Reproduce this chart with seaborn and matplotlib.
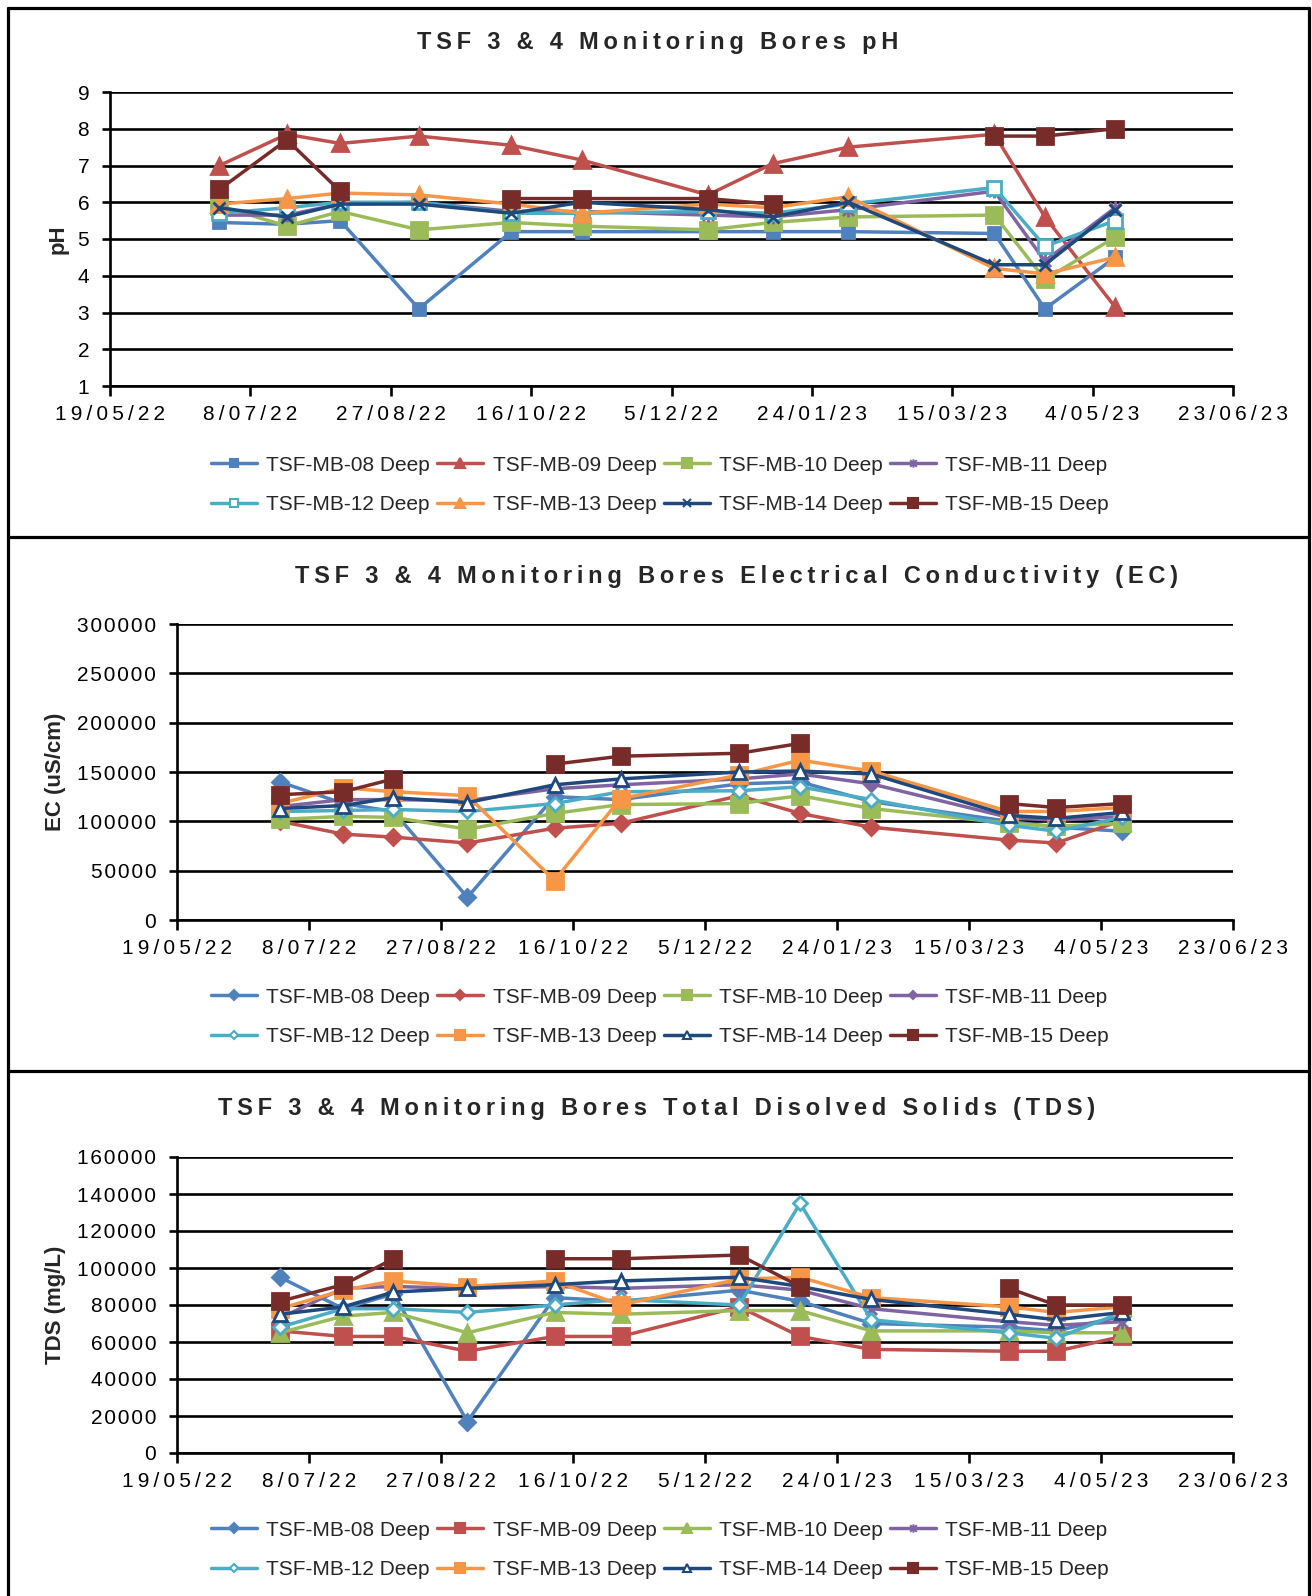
import matplotlib
matplotlib.use("Agg")
import matplotlib.pyplot as plt
from matplotlib.lines import Line2D
from matplotlib.path import Path
import numpy as np
import pandas as pd
import seaborn as sns

nan = np.nan

# ---- data ----
sample_dates = ["2022-06-27", "2022-07-21", "2022-08-09", "2022-09-06", "2022-10-09", "2022-11-03",
                "2022-12-18", "2023-01-10", "2023-02-06", "2023-03-30", "2023-04-17", "2023-05-12"]
bores = ["TSF-MB-08 Deep", "TSF-MB-09 Deep", "TSF-MB-10 Deep", "TSF-MB-11 Deep",
         "TSF-MB-12 Deep", "TSF-MB-13 Deep", "TSF-MB-14 Deep", "TSF-MB-15 Deep"]
tick_dates = ["2022-05-19", "2022-07-08", "2022-08-27", "2022-10-16", "2022-12-05",
              "2023-01-24", "2023-03-15", "2023-05-04", "2023-06-23"]
tick_labels = ["19/05/22", "8/07/22", "27/08/22", "16/10/22", "5/12/22",
               "24/01/23", "15/03/23", "4/05/23", "23/06/23"]

ph_08 = [5.45, 5.4, 5.5, 3.1, 5.2, 5.2, 5.2, 5.2, 5.2, 5.15, 3.1, 4.5]
ph_09 = [7.0, 7.85, 7.6, 7.8, 7.55, 7.15, 6.2, 7.05, 7.5, 7.85, 5.6, 3.15]
ph_10 = [5.9, 5.35, 5.75, 5.25, 5.45, 5.35, 5.25, 5.45, 5.6, 5.65, 3.9, 5.05]
ph_11 = [5.65, 5.65, 5.95, 6.0, 5.75, 5.75, 5.65, 5.6, 5.8, 6.3, 4.4, 5.85]
ph_12 = [5.7, 5.85, 6.0, 6.0, 5.7, 5.7, 5.75, 5.7, 5.95, 6.4, 4.8, 5.5]
ph_13 = [5.95, 6.1, 6.25, 6.2, 5.95, 5.7, 5.95, 5.85, 6.15, 4.2, 4.05, 4.5]
ph_14 = [5.85, 5.6, 5.95, 5.95, 5.7, 6.0, 5.8, 5.6, 6.0, 4.3, 4.3, 5.8]
ph_15 = [6.35, 7.7, 6.3, nan, 6.1, 6.1, 6.1, 5.95, nan, 7.8, 7.8, 8.0]

ec_08 = [140000, 118000, 110000, 23000, 125000, 122000, 138000, 140000, 120000, 100000, 94000, 90000]
ec_09 = [100000, 87000, 84000, 78000, 93000, 98000, 126000, 108000, 94000, 81000, 78000, 101000]
ec_10 = [102000, 105000, 104000, 92000, 108000, 117000, 118000, 126000, 113000, 98000, 95000, 98000]
ec_11 = [115000, 122000, 122000, 121000, 133000, 137000, 143000, 148000, 138000, 104000, 101000, 105000]
ec_12 = [110000, 111000, 112000, 110000, 118000, 130000, 131000, 135000, 122000, 96000, 90000, 104000]
ec_13 = [118000, 134000, 130000, 126000, 40000, 123000, 147000, 162000, 151000, 110000, 110000, 114000]
ec_14 = [113000, 116000, 124000, 119000, 137000, 143000, 150000, 151000, 148000, 106000, 103000, 109000]
ec_15 = [127000, 130000, 143000, nan, 158000, 166000, 169000, 179000, nan, 118000, 114000, 118000]

tds_08 = [95000, 78000, 86000, 17000, 84000, 82000, 88000, 82000, 70000, 68000, 66000, 74000]
tds_09 = [66000, 63000, 63000, 55000, 63000, 63000, 79000, 63000, 56000, 55000, 55000, 63000]
tds_10 = [65000, 74000, 76000, 65000, 76000, 75000, 77000, 77000, 66000, 66000, 65000, 65000]
tds_11 = [73000, 89000, 90000, 89000, 90000, 89000, 91000, 88000, 78000, 71000, 69000, 71000]
tds_12 = [68000, 78000, 78000, 76000, 80000, 83000, 80000, 135000, 72000, 65000, 62000, 76000]
tds_13 = [78000, 88000, 93000, 90000, 93000, 80000, 94000, 95000, 84000, 79000, 76000, 79000]
tds_14 = [75000, 79000, 87000, 89000, 91000, 93000, 95000, 90000, 83000, 75000, 72000, 76000]
tds_15 = [82000, 91000, 105000, nan, 105000, 105000, 107000, 90000, nan, 89000, 80000, 80000]

# ---- styling ----
sns.set_style("white")
plt.rcParams["font.family"] = ["Liberation Sans", "DejaVu Sans"]

colours = ["#4F81BD", "#C0504D", "#9BBB59", "#8064A2", "#4BACC6", "#F79646", "#1F497D", "#772C2A"]

# excel "star" marker: x with a vertical bar
star = Path([(0, -1), (0, 1), (-0.8, -0.8), (0.8, 0.8), (-0.8, 0.8), (0.8, -0.8)],
            [Path.MOVETO, Path.LINETO, Path.MOVETO, Path.LINETO, Path.MOVETO, Path.LINETO])

# (marker, size, hollow) per bore
ph_marks = [("s", 9, False), ("^", 11, False), ("s", 11, False), (star, 10, False),
            ("s", 10, True), ("^", 11, False), ("x", 9, False), ("s", 12, False)]
ec_marks = [("D", 8, False), ("D", 8, False), ("s", 11, False), ("D", 7, False),
            ("D", 7, True), ("s", 11, False), ("^", 10, True), ("s", 12, False)]
tds_marks = [("D", 8, False), ("s", 11, False), ("^", 11, False), (star, 10, False),
             ("D", 7, True), ("s", 11, False), ("^", 10, True), ("s", 12, False)]

W, H = 1312, 1596
fig = plt.figure(figsize=(W / 100, H / 100), dpi=100)


def spaced(s, gap="\u2009"):
    return gap.join(s)


def box(x0, y0, x1, y1):
    return [x0 / W, 1 - y1 / H, (x1 - x0) / W, (y1 - y0) / H]


def draw_panel(rect, series, marks, ylim, yticks, ylabel, title, title_xy, legend_y, ylab_x):
    ax = fig.add_axes(box(*rect))
    x = pd.to_datetime(sample_dates)
    for i, vals in enumerate(series):
        vals = np.array(vals, dtype=float)
        m, ms, hollow = marks[i]
        # split into runs so missing samples leave a gap like excel
        ok = ~np.isnan(vals)
        runs, cur = [], []
        for j in range(len(vals)):
            if ok[j]:
                cur.append(j)
            elif cur:
                runs.append(cur)
                cur = []
        if cur:
            runs.append(cur)
        for r in runs:
            sns.lineplot(x=x[r], y=vals[r], ax=ax, color=colours[i], lw=2.5,
                         marker=m, markersize=ms, markeredgecolor=colours[i],
                         markerfacecolor="white" if hollow else colours[i],
                         markeredgewidth=2.0, estimator=None, legend=False,
                         zorder=3 + i)
    ax.set_xlim(pd.Timestamp(tick_dates[0]), pd.Timestamp(tick_dates[-1]))
    ax.set_xticks(pd.to_datetime(tick_dates))
    ax.set_xticklabels([spaced(t) for t in tick_labels], fontsize=15)
    ax.set_ylim(*ylim)
    ax.set_yticks(yticks)
    ax.set_yticklabels([spaced(str(v), "\u200a") for v in yticks], fontsize=15)
    ax.set_xlabel("")
    ax.set_ylabel(ylabel, fontsize=16, fontweight="bold", va="center")
    ax.yaxis.set_label_coords((ylab_x - rect[0]) / (rect[2] - rect[0]), 0.5)
    ax.grid(False)
    for v in yticks:
        ax.axhline(v, color="black", lw=1.9, zorder=1)
    for side in ["top", "right"]:
        ax.spines[side].set_visible(False)
    for side in ["left", "bottom"]:
        ax.spines[side].set_color("black")
        ax.spines[side].set_linewidth(1.9)
    ax.tick_params(axis="x", direction="out", length=7, width=1.9, pad=7, colors="black", bottom=True)
    ax.tick_params(axis="y", direction="out", length=6, width=1.9, pad=9, colors="black", left=True)

    fig.text(title_xy[0] / W, 1 - title_xy[1] / H, spaced(title),
             ha="center", va="center", fontsize=17, fontweight="bold")

    handles = []
    for i, b in enumerate(bores):
        m, ms, hollow = marks[i]
        handles.append(Line2D([], [], color=colours[i], lw=2.5, marker=m, markersize=ms * 0.6,
                              markeredgecolor=colours[i], markeredgewidth=1.5,
                              markerfacecolor="white" if hollow else colours[i]))
    # legend fills column by column, so interleave to get excel's row order
    order = [0, 4, 1, 5, 2, 6, 3, 7]
    fig.legend([handles[k] for k in order], [bores[k] for k in order], loc="center",
               bbox_to_anchor=(660 / W, 1 - legend_y / H),
               ncol=4, frameon=False, fontsize=15, handlelength=2.2, handletextpad=0.45,
               columnspacing=0.35, labelspacing=1.0, borderpad=0)
    return ax


draw_panel((110, 92, 1233, 386), [ph_08, ph_09, ph_10, ph_11, ph_12, ph_13, ph_14, ph_15],
           ph_marks, (1, 9), list(range(1, 10)), "pH",
           "TSF 3 & 4 Monitoring Bores pH", (658, 43), 485, 58)
draw_panel((177, 624, 1233, 920), [ec_08, ec_09, ec_10, ec_11, ec_12, ec_13, ec_14, ec_15],
           ec_marks, (0, 300000), list(range(0, 300001, 50000)), "EC (uS/cm)",
           "TSF 3 & 4 Monitoring Bores Electrical Conductivity (EC)", (736, 577), 1017, 56)
draw_panel((177, 1157, 1233, 1453), [tds_08, tds_09, tds_10, tds_11, tds_12, tds_13, tds_14, tds_15],
           tds_marks, (0, 160000), list(range(0, 160001, 20000)), "TDS (mg/L)",
           "TSF 3 & 4 Monitoring Bores Total Disolved Solids (TDS)", (657, 1109), 1550, 56)

# panel frames
for (x0, y0, x1, y1) in [(8, 8, 1309, 8), (8, 8, 8, 1596), (1309, 8, 1309, 1596),
                         (8, 537, 1309, 537), (8, 1071, 1309, 1071)]:
    fig.add_artist(Line2D([x0 / W, x1 / W], [1 - y0 / H, 1 - y1 / H], color="black", lw=2.3))

fig.savefig("out.png", dpi=100)
